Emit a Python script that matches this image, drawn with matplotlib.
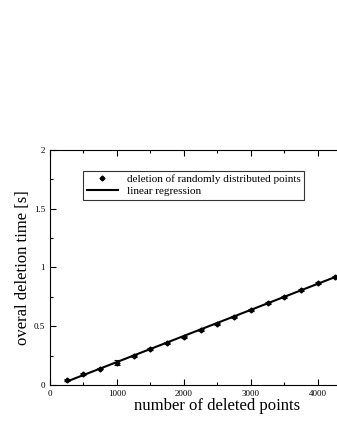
import matplotlib.pyplot as plt
import numpy as np
from matplotlib.ticker import MultipleLocator

plt.rcParams['font.family'] = 'Liberation Serif'

# measured deletion times
n_points = [250, 500, 750, 1000, 1250, 1500, 1750, 2000, 2250,
            2500, 2750, 3000, 3250, 3500, 3750, 4000, 4250]
del_time = [0.04, 0.09, 0.14, 0.19, 0.25, 0.305, 0.36, 0.41, 0.47,
            0.52, 0.58, 0.64, 0.695, 0.75, 0.81, 0.87, 0.92]
del_err = [0.008, 0.008, 0.008, 0.02, 0.008, 0.008, 0.008, 0.008, 0.008,
           0.01, 0.008, 0.008, 0.01, 0.008, 0.008, 0.008, 0.01]
x_ticks = [0, 1000, 2000, 3000, 4000]
y_ticks = [0, 0.5, 1, 1.5, 2]
y_ticklabels = ['0', '0.5', '1', '1.5', '2']

x = np.array(n_points)
y = np.array(del_time)
slope, icpt = np.polyfit(x, y, 1)

fig = plt.figure(figsize=(3.37, 4.36), dpi=100)
# axes runs past the right edge of the figure (cropped like the original)
ax = fig.add_axes([0.148, 0.117, 335 / 337, 0.539])

ax.errorbar(x, y, yerr=del_err, fmt='none', ecolor='black',
            elinewidth=0.8, capsize=2, capthick=0.8)
ax.plot(x, y, 'D', ms=2.5, color='black', label='deletion of randomly distributed points')
xl = np.array([250, 5000])
ax.plot(xl, slope * xl + icpt, color='black', lw=1.5, label='linear regression')

ax.set_xlim(0, 5000)
ax.set_ylim(0, 2)
ax.set_xticks(x_ticks)
ax.xaxis.set_minor_locator(MultipleLocator(500))
ax.yaxis.set_minor_locator(MultipleLocator(0.25))
ax.set_yticks(y_ticks)
ax.set_yticklabels(y_ticklabels)
ax.tick_params(which='both', direction='in', top=True, right=True, labelsize=6.5, width=0.8)
ax.tick_params(which='major', length=4)
ax.tick_params(which='minor', length=2)
for s in ax.spines.values():
    s.set_linewidth(0.8)

ax.set_xlabel('number of deleted points', fontsize=12, labelpad=0)
ax.set_ylabel('overal deletion time [s]', fontsize=12, labelpad=2)

leg = ax.legend(loc='upper left', bbox_to_anchor=(0.0985, 0.912), fontsize=8,
                frameon=True, fancybox=False, edgecolor='black', borderpad=0.35,
                handlelength=2.8, labelspacing=0.15, borderaxespad=0)
leg.get_frame().set_linewidth(0.8)

fig.savefig('out.png', dpi=100)
